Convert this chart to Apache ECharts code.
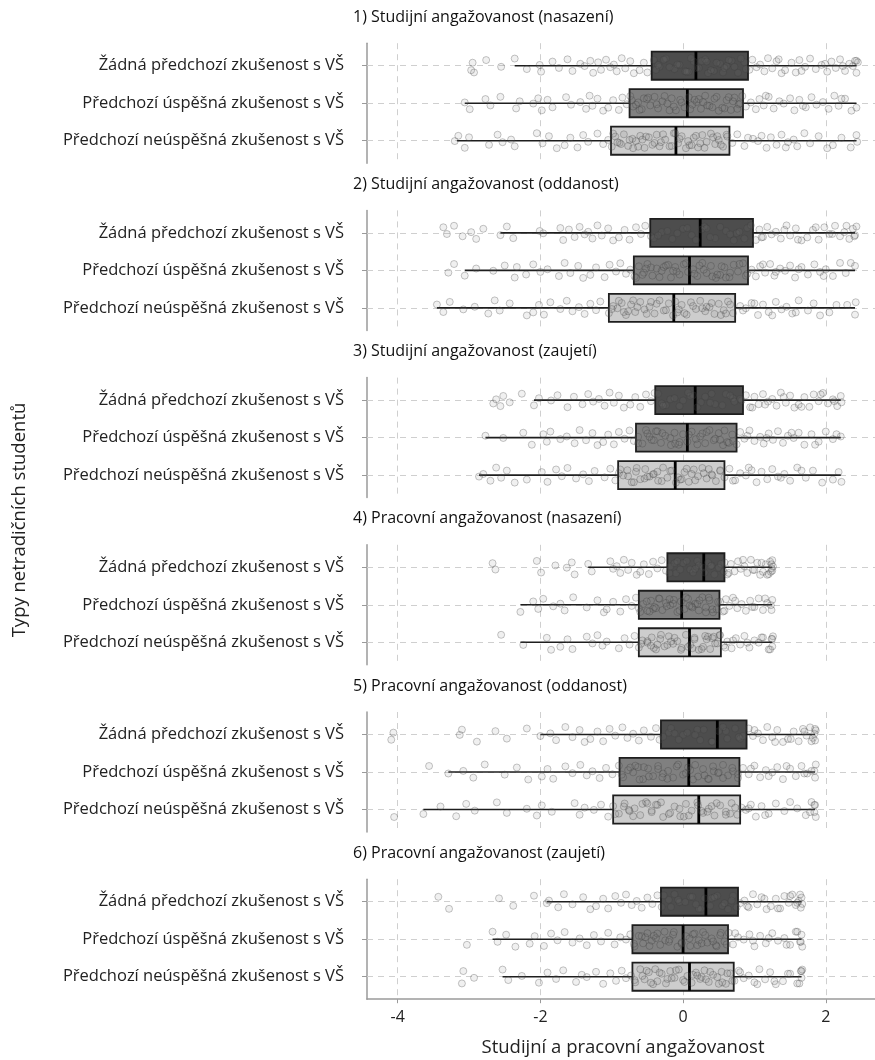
<!DOCTYPE html>
<html><head><meta charset="utf-8">
<script src="https://cdn.jsdelivr.net/npm/echarts@6/dist/echarts.min.js"></script>
<style>html,body{margin:0;padding:0;background:#fff}#c{width:875px;height:1060px}</style>
</head><body><div id="c"></div>
<script>
// ---------- DATA ----------
const categories = ['Žádná předchozí zkušenost s VŠ', 'Předchozí úspěšná zkušenost s VŠ', 'Předchozí neúspěšná zkušenost s VŠ'];
const panelTitles = ['1) Studijní angažovanost (nasazení)', '2) Studijní angažovanost (oddanost)', '3) Studijní angažovanost (zaujetí)',
  '4) Pracovní angažovanost (nasazení)', '5) Pracovní angažovanost (oddanost)', '6) Pracovní angažovanost (zaujetí)'];
const xTicks = [-4, -2, 0, 2];
const xAxisTitle = 'Studijní a pracovní angažovanost';
const yAxisTitle = 'Typy netradičních studentů';

// box stats per category: [lower whisker, Q1, median, Q3, upper whisker]
const box1 = [[-2.36, -0.44, 0.18, 0.91, 2.43], [-3.06, -0.75, 0.06, 0.84, 2.43], [-3.17, -1.01, -0.10, 0.65, 2.43]];
const box2 = [[-2.56, -0.46, 0.24, 0.98, 2.41], [-3.06, -0.69, 0.09, 0.91, 2.41], [-3.45, -1.04, -0.13, 0.73, 2.41]];
const box3 = [[-2.09, -0.39, 0.17, 0.84, 2.21], [-2.77, -0.66, 0.06, 0.75, 2.21], [-2.86, -0.91, -0.11, 0.58, 2.21]];
const box4 = [[-1.33, -0.22, 0.29, 0.58, 1.25], [-2.28, -0.62, -0.02, 0.51, 1.25], [-2.28, -0.62, 0.09, 0.53, 1.25]];
const box5 = [[-2.00, -0.31, 0.48, 0.89, 1.85], [-3.29, -0.89, 0.08, 0.79, 1.85], [-3.64, -0.98, 0.22, 0.80, 1.85]];
const box6 = [[-1.91, -0.31, 0.32, 0.77, 1.66], [-2.67, -0.71, 0.00, 0.63, 1.66], [-2.53, -0.71, 0.09, 0.71, 1.66]];

// individual observations (x values) per category
const pts1 = [
  [-2.97,-2.95,-2.93,-2.76,-2.55,-2.36,-2.19,-2.01,-1.99,-1.83,-1.74,-1.62,-1.55,-1.44,-1.38,-1.3,-1.26,-1.19,-1.15,-1.08,-1.02,-0.97,-0.93,-0.86,-0.81,-0.74,-0.69,-0.61,-0.55,-0.5,-0.41,-0.33,-0.24,-0.12,-0.05,0.08,0.15,0.22,0.31,0.43,0.52,0.61,0.68,0.77,0.86,0.93,0.97,1.03,1.08,1.14,1.19,1.25,1.31,1.38,1.43,1.52,1.58,1.63,1.71,1.78,1.86,1.94,2.02,2.08,2.14,2.2,2.27,2.33,2.38,2.43,2.43,2.45,
   -0.38,-0.27,-0.19,-0.08,0.03,0.11,0.19,0.26,0.35,0.39,0.47,0.56,0.64,0.72,0.81,0.88,-0.35,0.05,0.33,0.58,1.34,1.66,1.99,2.24,2.41],
  [-3.06,-2.99,-2.77,-2.7,-2.56,-2.34,-2.29,-2.1,-2.03,-1.98,-1.9,-1.83,-1.64,-1.57,-1.44,-1.36,-1.31,-1.27,-1.2,-1.12,-1.05,-0.98,-0.9,-0.85,-0.79,-0.74,-0.7,-0.63,-0.58,-0.51,-0.46,-0.4,-0.35,-0.29,-0.22,-0.16,-0.1,-0.04,0.02,0.08,0.13,0.19,0.25,0.31,0.37,0.44,0.5,0.55,0.61,0.67,0.72,0.78,0.83,0.88,0.95,1.02,1.07,1.13,1.2,1.27,1.35,1.41,1.5,1.56,1.63,1.72,1.8,1.87,1.96,2.04,2.12,2.18,2.27,2.36,2.43,
   -0.72,-0.61,-0.49,-0.37,-0.26,-0.13,-0.02,0.1,0.22,0.34,0.47,0.58,0.7,0.8,-0.55,-0.19,0.16,0.41,0.64,-0.66,0.28,0.76,1.16,1.68,2.22],
  [-3.2,-3.15,-3.06,-3.0,-2.72,-2.6,-2.53,-2.41,-2.36,-2.05,-1.97,-1.88,-1.77,-1.66,-1.58,-1.48,-1.4,-1.33,-1.2,-1.12,-1.05,-1.0,-0.95,-0.89,-0.83,-0.77,-0.71,-0.66,-0.6,-0.54,-0.48,-0.43,-0.37,-0.31,-0.25,-0.19,-0.13,-0.07,-0.02,0.04,0.09,0.15,0.21,0.27,0.33,0.39,0.45,0.5,0.56,0.62,0.69,0.76,0.86,0.98,1.05,1.1,1.17,1.23,1.31,1.38,1.47,1.55,1.6,1.7,1.78,1.9,2.02,2.1,2.22,2.35,2.43,2.44,
   -0.98,-0.87,-0.75,-0.63,-0.52,-0.4,-0.28,-0.16,-0.05,0.07,0.18,0.3,0.42,0.53,0.61,-0.92,-0.57,-0.33,-0.11,0.24,0.48,-0.7,0.12,0.91,1.44]
];
const pts2 = [
  [-3.36,-3.31,-3.21,-3.09,-2.97,-2.9,-2.8,-2.56,-2.47,-2.38,-2.01,-1.96,-1.72,-1.68,-1.6,-1.52,-1.45,-1.38,-1.33,-1.27,-1.2,-1.14,-1.05,-0.98,-0.9,-0.82,-0.75,-0.66,-0.59,-0.53,-0.45,-0.3,-0.15,0.0,0.12,0.3,0.45,0.6,0.75,0.9,1.02,1.07,1.12,1.18,1.24,1.3,1.37,1.45,1.5,1.58,1.66,1.74,1.82,1.9,1.98,2.05,2.13,2.2,2.26,2.33,2.38,2.41,2.43,
   -0.41,-0.22,-0.08,0.06,0.18,0.26,0.38,0.52,0.66,0.79,0.86,0.95,-0.35,0.33,0.71,1.1,1.42,1.61,1.86,2.09,2.29,2.4],
  [-3.29,-3.21,-3.06,-2.9,-2.66,-2.5,-2.36,-2.33,-2.2,-2.1,-2.0,-1.9,-1.74,-1.66,-1.58,-1.47,-1.4,-1.3,-1.22,-1.1,-1.03,-0.94,-0.88,-0.8,-0.74,-0.68,-0.62,-0.55,-0.5,-0.43,-0.37,-0.3,-0.24,-0.17,-0.11,-0.05,0.01,0.07,0.14,0.2,0.27,0.33,0.39,0.46,0.52,0.58,0.65,0.71,0.77,0.84,0.9,0.96,1.02,1.08,1.15,1.22,1.28,1.36,1.43,1.5,1.57,1.66,1.75,1.84,1.92,2.0,2.1,2.2,2.28,2.41,
   -0.66,-0.57,-0.45,-0.33,-0.21,-0.09,0.04,0.16,0.29,0.41,0.54,0.66,0.79,0.88,-0.52,-0.14,0.23,0.6,-0.27,0.48,1.12,1.3,1.62,1.97,2.35],
  [-3.45,-3.36,-3.27,-3.08,-2.92,-2.73,-2.64,-2.57,-2.43,-2.19,-2.1,-2.02,-1.95,-1.86,-1.72,-1.63,-1.55,-1.46,-1.38,-1.3,-1.22,-1.16,-1.04,-0.98,-0.92,-0.86,-0.8,-0.73,-0.67,-0.6,-0.54,-0.47,-0.4,-0.33,-0.27,-0.2,-0.14,-0.08,-0.02,0.05,0.11,0.18,0.24,0.31,0.37,0.44,0.5,0.57,0.63,0.7,0.8,0.88,0.96,1.05,1.12,1.2,1.3,1.38,1.45,1.53,1.62,1.75,1.83,1.92,2.05,2.15,2.41,2.42,
   -1.0,-0.9,-0.77,-0.64,-0.51,-0.37,-0.24,-0.11,0.02,0.14,0.27,0.4,0.53,0.66,-0.83,-0.45,-0.06,0.33,0.6,-0.7,0.84,1.0,1.25,1.58,2.3]
];
const pts3 = [
  [-2.66,-2.62,-2.56,-2.52,-2.43,-2.26,-2.09,-2.02,-1.85,-1.76,-1.62,-1.53,-1.41,-1.33,-1.26,-1.18,-1.1,-1.03,-0.97,-0.9,-0.83,-0.74,-0.67,-0.6,-0.52,-0.45,-0.4,-0.3,-0.18,-0.05,0.1,0.25,0.4,0.55,0.7,0.82,0.88,0.94,1.0,1.06,1.12,1.19,1.25,1.31,1.37,1.44,1.5,1.56,1.62,1.7,1.77,1.83,1.9,1.96,2.03,2.1,2.16,2.21,2.22,
   -0.35,-0.24,-0.12,0.0,0.14,0.2,0.31,0.45,0.6,0.72,0.8,-0.28,0.07,0.38,0.66,0.97,1.15,1.41,1.66,1.93,2.12],
  [-2.77,-2.52,-2.24,-2.12,-1.96,-1.91,-1.86,-1.72,-1.63,-1.52,-1.45,-1.36,-1.27,-1.2,-1.12,-1.05,-0.97,-0.9,-0.82,-0.75,-0.69,-0.63,-0.57,-0.5,-0.44,-0.38,-0.31,-0.25,-0.18,-0.12,-0.06,0.0,0.06,0.12,0.18,0.24,0.31,0.37,0.43,0.5,0.56,0.62,0.69,0.75,0.8,0.86,0.93,1.0,1.08,1.13,1.2,1.26,1.33,1.4,1.47,1.55,1.62,1.7,1.8,1.9,2.0,2.1,2.21,
   -0.63,-0.52,-0.41,-0.29,-0.17,-0.05,0.08,0.2,0.33,0.45,0.58,0.7,-0.47,-0.11,0.27,0.52,-0.36,0.64,0.9,1.17,1.52,1.85,2.15],
  [-2.86,-2.8,-2.7,-2.62,-2.55,-2.47,-2.36,-2.19,-1.98,-1.9,-1.78,-1.7,-1.62,-1.5,-1.4,-1.32,-1.24,-1.1,-1.02,-0.95,-0.9,-0.84,-0.78,-0.72,-0.66,-0.6,-0.53,-0.47,-0.41,-0.35,-0.28,-0.22,-0.16,-0.1,-0.04,0.02,0.08,0.15,0.21,0.27,0.33,0.4,0.46,0.52,0.58,0.65,0.73,0.8,0.88,0.96,1.03,1.1,1.18,1.25,1.33,1.42,1.5,1.6,1.72,1.82,1.95,2.1,2.18,2.22,
   -0.88,-0.77,-0.65,-0.54,-0.42,-0.3,-0.18,-0.07,0.05,0.17,0.29,0.41,0.52,-0.69,-0.36,-0.02,0.36,-0.5,0.12,0.7,0.92,1.37,1.66]
];
const pts4 = [
  [-2.67,-2.63,-2.05,-1.99,-1.79,-1.63,-1.56,-1.52,-1.33,-1.28,-1.02,-0.98,-0.93,-0.88,-0.83,-0.77,-0.72,-0.65,-0.6,-0.55,-0.48,-0.42,-0.36,-0.3,-0.24,-0.18,-0.1,0.0,0.1,0.2,0.3,0.4,0.5,0.58,0.62,0.67,0.72,0.77,0.81,0.86,0.9,0.95,1.0,1.04,1.08,1.12,1.16,1.2,1.22,1.24,1.25,1.25,1.26,
   -0.19,-0.12,-0.04,0.05,0.14,0.22,0.28,0.35,0.44,0.53,0.57,-0.08,0.17,0.39,0.64,0.84,0.98,1.1,1.18,1.23,1.24],
  [-2.28,-2.1,-2.03,-1.96,-1.82,-1.72,-1.66,-1.54,-1.35,-1.2,-1.11,-1.07,-0.98,-0.88,-0.8,-0.72,-0.66,-0.62,-0.56,-0.5,-0.45,-0.4,-0.34,-0.29,-0.24,-0.18,-0.13,-0.08,-0.03,0.02,0.07,0.12,0.17,0.22,0.27,0.32,0.37,0.42,0.47,0.52,0.56,0.6,0.65,0.7,0.76,0.82,0.88,0.94,1.0,1.06,1.12,1.18,1.23,1.25,
   -0.6,-0.51,-0.42,-0.33,-0.23,-0.14,-0.05,0.04,0.13,0.23,0.32,0.41,0.49,-0.47,-0.19,0.09,0.36,-0.38,0.2,0.58,0.73,0.97,1.15,1.24],
  [-2.55,-2.24,-1.91,-1.85,-1.72,-1.62,-1.55,-1.35,-1.27,-1.2,-1.13,-1.07,-0.9,-0.82,-0.75,-0.68,-0.62,-0.57,-0.5,-0.44,-0.38,-0.32,-0.26,-0.2,-0.14,-0.08,-0.02,0.04,0.1,0.16,0.22,0.28,0.33,0.38,0.43,0.48,0.52,0.57,0.62,0.68,0.74,0.8,0.86,0.93,1.0,1.06,1.12,1.2,1.24,1.25,1.26,
   -0.59,-0.5,-0.41,-0.31,-0.22,-0.12,-0.03,0.07,0.16,0.26,0.35,0.45,0.51,-0.45,-0.17,0.13,0.41,-0.36,0.31,0.59,0.7,0.9,1.1,1.22,1.25]
];
const pts5 = [
  [-4.09,-4.06,-3.13,-3.1,-2.89,-2.63,-2.47,-2.19,-2.0,-1.86,-1.78,-1.65,-1.55,-1.45,-1.38,-1.3,-1.2,-1.12,-1.03,-0.95,-0.85,-0.78,-0.7,-0.62,-0.55,-0.45,-0.38,-0.33,-0.2,0.0,0.2,0.4,0.6,0.8,0.92,0.98,1.05,1.12,1.18,1.25,1.32,1.4,1.47,1.55,1.62,1.68,1.73,1.78,1.82,1.84,1.85,1.86,
   -0.28,-0.17,-0.06,0.06,0.17,0.29,0.41,0.5,0.62,0.73,0.84,-0.12,0.24,0.56,0.78,1.0,1.29,1.51,1.7,1.8,1.85],
  [-3.56,-3.29,-3.08,-2.94,-2.78,-2.5,-2.33,-2.17,-1.98,-1.9,-1.82,-1.65,-1.55,-1.44,-1.35,-1.27,-1.17,-1.08,-0.99,-0.9,-0.84,-0.77,-0.7,-0.63,-0.56,-0.49,-0.42,-0.35,-0.28,-0.21,-0.14,-0.07,0.0,0.07,0.14,0.21,0.28,0.35,0.42,0.49,0.56,0.63,0.7,0.77,0.84,0.92,1.0,1.08,1.16,1.25,1.32,1.4,1.5,1.58,1.66,1.74,1.8,1.85,1.86,
   -0.86,-0.74,-0.61,-0.48,-0.35,-0.22,-0.09,0.04,0.17,0.3,0.43,0.56,0.69,0.77,-0.67,-0.29,0.1,0.5,-0.55,0.36,0.95,1.2,1.45,1.7,1.84],
  [-4.05,-3.64,-3.4,-3.18,-3.04,-2.92,-2.61,-2.47,-2.19,-2.05,-1.98,-1.84,-1.52,-1.45,-1.38,-1.25,-1.15,-1.05,-0.98,-0.9,-0.82,-0.75,-0.68,-0.6,-0.52,-0.44,-0.36,-0.28,-0.2,-0.12,-0.04,0.04,0.12,0.2,0.28,0.36,0.44,0.52,0.6,0.68,0.76,0.82,0.88,0.95,1.02,1.1,1.2,1.3,1.42,1.6,1.72,1.8,1.84,1.85,1.86,
   -0.95,-0.83,-0.7,-0.57,-0.44,-0.31,-0.18,-0.05,0.08,0.21,0.34,0.47,0.6,0.73,-0.76,-0.38,0.01,0.4,0.66,-0.5,0.26,0.92,1.15,1.5,1.78,1.84]
];
const pts6 = [
  [-3.43,-3.28,-2.58,-2.38,-2.09,-1.91,-1.88,-1.75,-1.67,-1.55,-1.4,-1.3,-1.22,-1.12,-1.05,-0.95,-0.87,-0.8,-0.72,-0.65,-0.58,-0.5,-0.43,-0.36,-0.3,-0.2,-0.05,0.1,0.25,0.4,0.55,0.7,0.8,0.86,0.92,0.98,1.04,1.1,1.17,1.23,1.3,1.36,1.42,1.48,1.53,1.58,1.62,1.65,1.66,1.67,
   -0.27,-0.17,-0.07,0.03,0.13,0.22,0.3,0.38,0.48,0.58,0.68,0.75,-0.12,0.18,0.44,0.63,0.9,1.14,1.33,1.5,1.6,1.64],
  [-3.03,-2.67,-2.6,-2.48,-2.35,-2.15,-2.08,-1.95,-1.85,-1.76,-1.66,-1.55,-1.45,-1.35,-1.25,-1.15,-1.05,-0.96,-0.88,-0.8,-0.74,-0.68,-0.62,-0.56,-0.5,-0.44,-0.38,-0.32,-0.26,-0.2,-0.14,-0.08,-0.02,0.04,0.1,0.16,0.22,0.28,0.34,0.4,0.46,0.52,0.58,0.64,0.7,0.77,0.85,0.93,1.0,1.08,1.16,1.25,1.33,1.42,1.5,1.58,1.64,1.66,1.67,
   -0.69,-0.58,-0.47,-0.36,-0.25,-0.13,-0.02,0.09,0.2,0.31,0.42,0.53,0.61,-0.53,-0.19,0.14,0.47,-0.41,0.26,0.73,0.98,1.2,1.45,1.6,1.65],
  [-3.1,-3.08,-2.93,-2.53,-2.45,-2.26,-2.02,-1.9,-1.78,-1.68,-1.5,-1.42,-1.35,-1.22,-1.12,-1.02,-0.94,-0.86,-0.8,-0.73,-0.67,-0.6,-0.54,-0.48,-0.42,-0.36,-0.3,-0.24,-0.18,-0.12,-0.06,0.0,0.06,0.12,0.18,0.24,0.3,0.36,0.42,0.48,0.54,0.6,0.66,0.72,0.78,0.85,0.92,1.0,1.07,1.15,1.22,1.3,1.4,1.5,1.6,1.65,1.66,1.67,
   -0.68,-0.57,-0.45,-0.33,-0.22,-0.1,0.02,0.14,0.26,0.38,0.5,0.62,0.69,-0.51,-0.16,0.2,0.55,-0.39,0.32,0.8,1.04,1.28,1.47,1.63,1.66]
];

// ---------- PRESENTATION ----------
const boxes = [box1, box2, box3, box4, box5, box6];
const points = [pts1, pts2, pts3, pts4, pts5, pts6];
const jitterPattern = [0.12,-0.08,0.18,-0.15,0.03,-0.19,0.09,-0.02,0.16,-0.11,0.06,-0.17,0.14,-0.05,0.01,-0.13,0.19,-0.09,0.11,-0.16,0.04,-0.03,0.15,-0.2,0.07,-0.12,0.2];
const boxFill = ['#4d4d4d', '#808080', '#cdcdcd'];
const FONT = 'Open Sans';
const X_MIN = -4.43, X_MAX = 2.69;
const GRID_LEFT = 367, PANEL_TOP0 = 43.2, PANEL_STEP = 167.2, PANEL_H = 120;

const grids = [], xAxes = [], yAxes = [], series = [], graphics = [];
for (let k = 0; k < 6; k++) {
  const last = k === 5;
  const top = PANEL_TOP0 + PANEL_STEP * k;
  grids.push({ left: GRID_LEFT, top: top, width: 875 - GRID_LEFT, height: PANEL_H, containLabel: false });
  xAxes.push({
    gridIndex: k, type: 'value', min: X_MIN, max: X_MAX,
    axisLine: { show: last, onZero: false, lineStyle: { color: '#9a9a9a', width: 1.5 } },
    axisTick: { show: last, customValues: xTicks, length: 4, lineStyle: { color: '#9a9a9a' } },
    axisLabel: { show: last, customValues: xTicks, fontSize: 16, color: '#222', fontFamily: FONT, margin: 10 },
    splitLine: { show: false }
  });
  yAxes.push({
    gridIndex: k, type: 'value', min: -0.6, max: 2.6, inverse: true,
    axisLine: { show: true, onZero: false, lineStyle: { color: '#9a9a9a', width: 1.5 } },
    axisTick: { show: true, customValues: [0, 1, 2], length: 5, lineStyle: { color: '#9a9a9a' } },
    axisLabel: { customValues: [0, 1, 2], formatter: v => categories[v] || '', fontSize: 16.5, color: '#222', fontFamily: FONT, margin: 23 },
    splitLine: { show: false }
  });
  // gridlines
  series.push({
    type: 'line', xAxisIndex: k, yAxisIndex: k, data: [], silent: true, z: 1,
    markLine: {
      silent: true, symbol: 'none', label: { show: false },
      lineStyle: { color: '#cfcfcf', type: [6, 5], width: 1 },
      data: xTicks.map(t => ({ xAxis: t })).concat([0, 1, 2].map(c => ({ yAxis: c })))
    }
  });
  // boxes
  series.push({
    type: 'custom', xAxisIndex: k, yAxisIndex: k, z: 10, silent: true,
    data: boxes[k].map((b, c) => [c].concat(b)),
    encode: { x: [1, 2, 3, 4, 5], y: 0 },
    renderItem: function (params, api) {
      const c = api.value(0);
      const pLo = api.coord([api.value(1), c]);
      const pQ1 = api.coord([api.value(2), c]);
      const pMed = api.coord([api.value(3), c]);
      const pQ3 = api.coord([api.value(4), c]);
      const pHi = api.coord([api.value(5), c]);
      const h = api.size([0, 0.75])[1];
      const y = pQ1[1];
      const stroke = '#1e1e1e';
      return {
        type: 'group', children: [
          { type: 'line', shape: { x1: pLo[0], y1: y, x2: pQ1[0], y2: y }, style: { stroke: stroke, lineWidth: 1.6 } },
          { type: 'line', shape: { x1: pQ3[0], y1: y, x2: pHi[0], y2: y }, style: { stroke: stroke, lineWidth: 1.6 } },
          { type: 'rect', shape: { x: pQ1[0], y: y - h / 2, width: pQ3[0] - pQ1[0], height: h }, style: { fill: boxFill[c], stroke: stroke, lineWidth: 1.8 } },
          { type: 'line', shape: { x1: pMed[0], y1: y - h / 2, x2: pMed[0], y2: y + h / 2 }, style: { stroke: '#000', lineWidth: 2.8 } }
        ]
      };
    }
  });
  // jittered points
  const sd = [];
  points[k].forEach((arr, c) => {
    arr.forEach((v, j) => {
      sd.push([v, c + jitterPattern[(j + c * 7 + k * 3) % jitterPattern.length]]);
    });
  });
  series.push({
    type: 'scatter', xAxisIndex: k, yAxisIndex: k, z: 12, silent: true,
    symbol: 'circle', symbolSize: 7,
    itemStyle: { color: 'rgba(130,130,130,0.15)', borderColor: 'rgba(60,60,60,0.36)', borderWidth: 1 },
    data: sd
  });
  graphics.push({
    type: 'text', left: 353, top: top - 34,
    style: { text: panelTitles[k], fontSize: 16, fontFamily: FONT, fill: '#111' }
  });
}
graphics.push({
  type: 'text', x: 20, y: 520, rotation: Math.PI / 2,
  style: { text: yAxisTitle, fontSize: 18.5, fontFamily: FONT, fill: '#222', align: 'center', verticalAlign: 'middle' }
});
graphics.push({
  type: 'text', x: 623, y: 1048,
  style: { text: xAxisTitle, fontSize: 18.5, fontFamily: FONT, fill: '#222', align: 'center', verticalAlign: 'middle' }
});

const chart = echarts.init(document.getElementById('c'), null, { renderer: 'canvas' });
chart.setOption({
  animation: false,
  backgroundColor: '#fff',
  grid: grids, xAxis: xAxes, yAxis: yAxes, series: series, graphic: graphics
});
</script>
</body></html>
